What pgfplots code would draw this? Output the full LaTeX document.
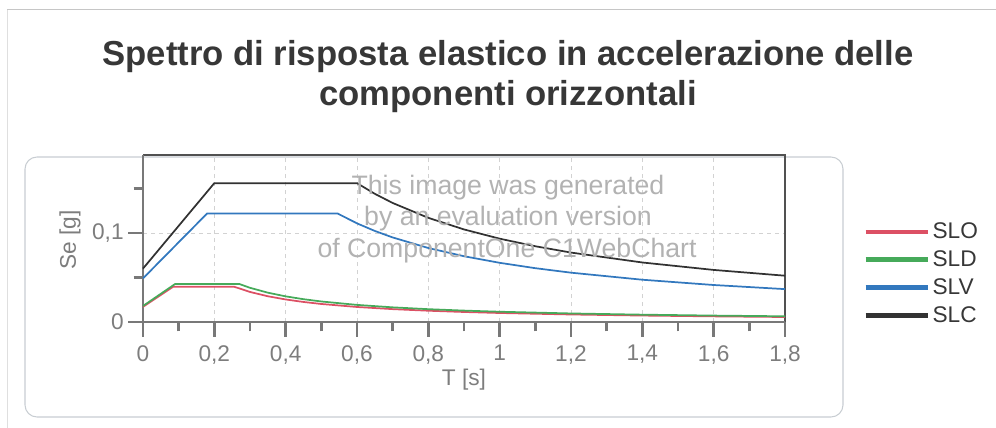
\documentclass[border=0pt]{standalone}
\usepackage{fontspec}
\setmainfont{Liberation Sans}
\usepackage{pgfplots}
\pgfplotsset{compat=1.18}
\definecolor{cSLO}{RGB}{220,80,100}
\definecolor{cSLD}{RGB}{70,170,90}
\definecolor{cSLV}{RGB}{50,120,190}
\definecolor{cSLC}{RGB}{50,50,50}
\definecolor{tickgray}{RGB}{125,125,125}
\definecolor{axgray}{RGB}{120,120,120}
\definecolor{wm}{RGB}{178,178,178}
\definecolor{titlegray}{RGB}{55,55,55}
\definecolor{panel}{RGB}{200,205,210}
\begin{document}
\begin{tikzpicture}
\begin{scope}[x=0.75pt,y=-0.75pt]
\path[use as bounding box] (0,0) rectangle (996,428);
% outer frame lines
\draw[gray!45,line width=0.75pt] (7,10) -- (996,10);
\draw[gray!25,line width=0.75pt] (7,10) -- (7,428);
% title
\node[anchor=base,font=\fontsize{26}{30}\selectfont\bfseries,text=titlegray] at (508,66) {Spettro di risposta elastico in accelerazione delle};
\node[anchor=base,font=\fontsize{26}{30}\selectfont\bfseries,text=titlegray] at (508,105) {componenti orizzontali};
% panel
\draw[panel,line width=0.8pt,rounded corners=9pt] (25,157) rectangle (843,417);
\end{scope}
\begin{axis}[
  at={(107.25pt,-241.5pt)}, anchor=south west,
  scale only axis, width=481.5pt, height=125.25pt,
  xmin=0, xmax=1.8, ymin=0, ymax=0.1876,
  xtick={0,0.2,0.4,0.6,0.8,1,1.2,1.4,1.6,1.8},
  xticklabels={0,{0,2},{0,4},{0,6},{0,8},1,{1,2},{1,4},{1,6},{1,8}},
  minor xtick={0.1,0.3,0.5,0.7,0.9,1.1,1.3,1.5,1.7},
  ytick={0,0.1}, yticklabels={0,{0,1}},
  minor ytick={0.05,0.15},
  xtick pos=bottom, ytick pos=left,
  tick align=outside,
  major tick length=11pt, minor tick length=7pt,
  every tick/.style={axgray,line width=2.2pt},
  tick label style={font=\fontsize{17}{19}\selectfont, text=tickgray},
  xticklabel style={yshift=-3pt},
  xmajorgrids, ymajorgrids,
  major grid style={dashed, gray!35, line width=0.6pt},
  axis line style={draw=none},
  xlabel={T [s]}, ylabel={Se [g]},
  label style={font=\fontsize{17}{19}\selectfont, text=tickgray},
  xlabel style={at={(axis description cs:0.5,-0.347)}, anchor=center},
  ylabel style={at={(axis description cs:-0.1137,0.491)}, anchor=center},
  legend style={draw=none, fill=none, at={(1.1215,0.61)}, anchor=north west,
     font=\fontsize{17}{19}\selectfont, text=titlegray, row sep=3.5pt,
     legend cell align=left, inner sep=0pt},
  legend image code/.code={\draw[#1,line width=3.5pt] (0pt,0pt) -- (46.5pt,0pt);},
  clip=false,
]
\addlegendimage{cSLO}\addlegendentry{SLO}
\addlegendimage{cSLD}\addlegendentry{SLD}
\addlegendimage{cSLV}\addlegendentry{SLV}
\addlegendimage{cSLC}\addlegendentry{SLC}
% frame
\draw[cSLC!85,line width=1.5pt] (rel axis cs:0,1) -- (rel axis cs:1,1) -- (rel axis cs:1,0);
\draw[axgray,line width=2.2pt] (rel axis cs:0,1) -- (rel axis cs:0,0) -- (rel axis cs:1,0);
% SLO
\addplot[cSLO, line width=1.3pt, forget plot] coordinates {
(0,0.017) (0.085,0.0397) (0.255,0.0397) (0.3,0.03375) (0.35,0.02893) (0.4,0.02531)
(0.45,0.0225) (0.5,0.02025) (0.6,0.01687) (0.7,0.01446) (0.8,0.01266) (0.9,0.01125)
(1.0,0.01012) (1.2,0.00844) (1.4,0.00723) (1.6,0.00633) (1.8,0.00562)};
% SLD
\addplot[cSLD, line width=1.3pt, forget plot] coordinates {
(0,0.018) (0.09,0.0427) (0.27,0.0427) (0.3,0.03843) (0.35,0.03294) (0.4,0.02882)
(0.45,0.02562) (0.5,0.02306) (0.6,0.01922) (0.7,0.01647) (0.8,0.01441) (0.9,0.01281)
(1.0,0.01153) (1.2,0.00961) (1.4,0.00824) (1.6,0.00721) (1.8,0.00641)};
% SLV
\addplot[cSLV, line width=1.3pt, forget plot] coordinates {
(0,0.049) (0.18,0.122) (0.545,0.122) (0.6,0.11082) (0.65,0.10229) (0.7,0.09499)
(0.8,0.08311) (0.9,0.07388) (1.0,0.06649) (1.1,0.06045) (1.2,0.05541)
(1.4,0.04749) (1.6,0.04156) (1.8,0.03694)};
% SLC
\addplot[cSLC, line width=1.3pt, forget plot] coordinates {
(0,0.060) (0.20,0.156) (0.60,0.156) (0.65,0.144) (0.7,0.13371) (0.8,0.117)
(0.9,0.104) (1.0,0.0936) (1.1,0.08509) (1.2,0.078) (1.4,0.06686) (1.6,0.0585) (1.8,0.052)};
\end{axis}
% watermark
\begin{scope}[x=0.75pt,y=-0.75pt]
\node[font=\fontsize{20}{22}\selectfont,text=wm] at (508,188) {This image was generated};
\node[font=\fontsize{20}{22}\selectfont,text=wm] at (508,219) {by an evaluation version};
\node[font=\fontsize{20}{22}\selectfont,text=wm] at (507,251) {of ComponentOne C1WebChart};
\end{scope}
\end{tikzpicture}
\end{document}
